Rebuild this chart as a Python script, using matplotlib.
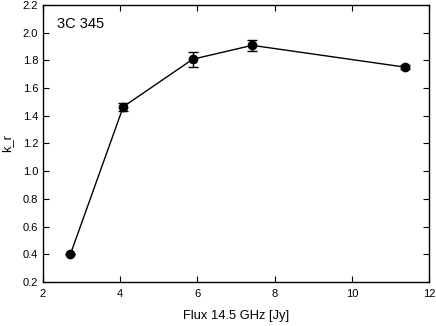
import matplotlib.pyplot as plt

plt.rcParams['font.family'] = ['Liberation Sans', 'DejaVu Sans']

flux = [2.71, 4.08, 5.88, 7.42, 11.37]
k_r = [0.40, 1.465, 1.808, 1.908, 1.751]
k_err = [0.0, 0.030, 0.053, 0.042, 0.015]

fig = plt.figure(figsize=(4.36, 3.26), dpi=100)
ax = fig.add_axes([0.0986, 0.135, 0.8854, 0.85])

ax.errorbar(flux, k_r, yerr=k_err, fmt='o-', color='black', markersize=6,
            linewidth=1, elinewidth=1, capsize=3.5, capthick=1)

ax.set_xlim(2, 12)
ax.set_ylim(0.2, 2.2)
ax.set_xticks([2, 4, 6, 8, 10, 12])
ax.set_yticks([0.2, 0.4, 0.6, 0.8, 1.0, 1.2, 1.4, 1.6, 1.8, 2.0, 2.2])
ax.yaxis.set_major_formatter(plt.FormatStrFormatter('%.1f'))
ax.tick_params(direction='in', top=True, right=True, labelsize=8, length=4, width=0.8)
ax.tick_params(axis='x', pad=5)
for s in ax.spines.values():
    s.set_linewidth(1)

ax.set_xlabel("Flux 14.5 GHz [Jy]", fontsize=9.3, labelpad=8)
ax.set_ylabel("k_r", fontsize=9.3, labelpad=7)
ax.text(0.035, 0.955, "3C 345", transform=ax.transAxes, fontsize=10.5, va='top')

fig.savefig("out.png", dpi=100)
